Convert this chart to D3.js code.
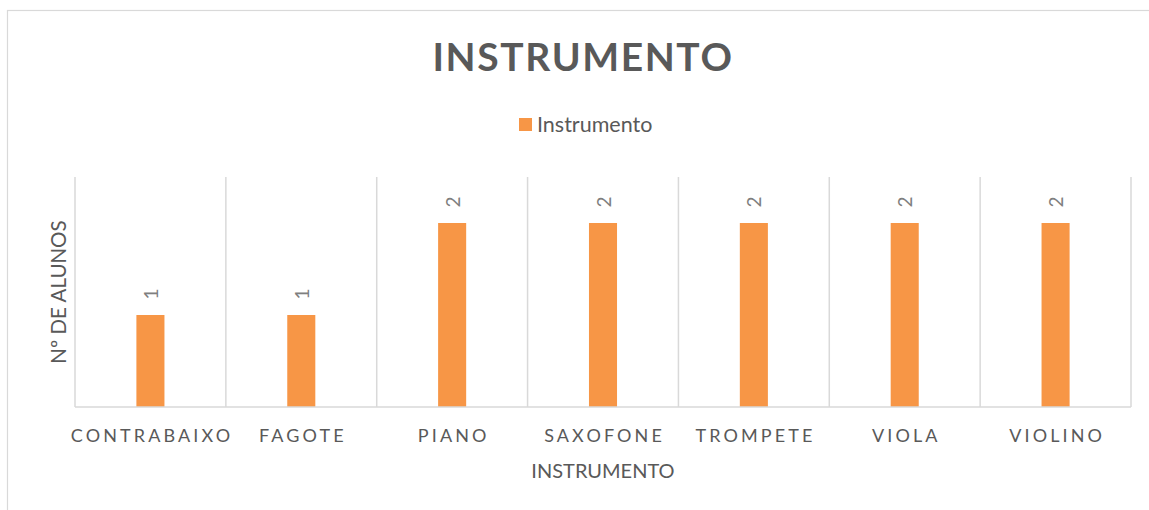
<!DOCTYPE html>
<html><head><meta charset="utf-8">
<script src="https://cdn.jsdelivr.net/npm/d3@7"></script>
<style>body{margin:0;background:#fff}svg{display:block}</style>
</head><body>
<svg id="c" width="1149" height="510"></svg>
<script>
const categories = ["CONTRABAIXO","FAGOTE","PIANO","SAXOFONE","TROMPETE","VIOLA","VIOLINO"];
const values = [1,1,2,2,2,2,2];
const seriesName = "Instrumento";
const chartTitle = "INSTRUMENTO";
const xTitle = "INSTRUMENTO";
const yTitle = "Nº DE ALUNOS";

const font = "Lato, 'Open Sans', sans-serif";
const svg = d3.select("#c");
const m = {l:75, r:1131, t:177, b:407};

svg.append("rect").attr("x",7.5).attr("y",10.5).attr("width",1200).attr("height",600)
  .attr("fill","none").attr("stroke","#d9d9d9").attr("stroke-width",1.2);

const xGrid = d3.scaleBand().domain(categories).range([m.l,m.r]).padding(0);
const x = d3.scaleBand().domain(categories).range([m.l,m.r]).paddingInner(0.814).paddingOuter(0.407);
const y = d3.scaleLinear().domain([0,2.5]).range([m.b,m.t]);

// gridlines at category boundaries
const bounds = categories.map(c=>xGrid(c)).concat([m.r]);
svg.append("g").selectAll("line").data(bounds).join("line")
  .attr("x1",d=>d).attr("x2",d=>d).attr("y1",m.t).attr("y2",m.b)
  .attr("stroke","#d9d9d9").attr("stroke-width",1.5);

// bars
svg.append("g").selectAll("rect").data(values).join("rect")
  .attr("x",(d,i)=>x(categories[i])).attr("width",x.bandwidth())
  .attr("y",d=>y(d)).attr("height",d=>y(0)-y(d)).attr("fill","#F79646");

// baseline
svg.append("line").attr("x1",m.l).attr("x2",m.r).attr("y1",m.b).attr("y2",m.b)
  .attr("stroke","#d9d9d9").attr("stroke-width",1.5);

// data labels
svg.append("g").selectAll("text").data(values).join("text")
  .attr("transform",(d,i)=>`translate(${x(categories[i])+x.bandwidth()/2},${y(d)-21}) rotate(-90)`)
  .attr("text-anchor","middle").attr("dominant-baseline","central")
  .attr("font-family",font).attr("font-size",19).attr("fill","#7f7f7f")
  .text(d=>d);

// x axis labels
const ls = 3.1;
const xAxis = d3.axisBottom(xGrid).tickSize(0).tickPadding(0);
const gx = svg.append("g").attr("transform",`translate(0,${m.b})`).call(xAxis);
gx.select(".domain").remove();
gx.selectAll("text").attr("y",35).attr("dy",0).attr("dx",ls/2)
  .attr("font-family",font).attr("font-size",18).attr("fill","#595959")
  .attr("letter-spacing",ls);

// x title
svg.append("text").attr("x",(m.l+m.r)/2).attr("y",478).attr("text-anchor","middle")
  .attr("font-family",font).attr("font-size",20).attr("fill","#595959").text(xTitle);

// y title
svg.append("text").attr("transform",`translate(66,${(m.t+m.b)/2}) rotate(-90)`)
  .attr("text-anchor","middle").attr("font-family",font).attr("font-size",20.5)
  .attr("fill","#595959").text(yTitle);

// title
svg.append("text").attr("x",583).attr("y",71).attr("text-anchor","middle")
  .attr("font-family",font).attr("font-size",39).attr("font-weight","bold")
  .attr("letter-spacing",1.6).attr("fill","#595959").text(chartTitle);

// legend
const lg = svg.append("g");
lg.append("rect").attr("x",519).attr("y",118).attr("width",13).attr("height",13).attr("fill","#F79646");
lg.append("text").attr("x",537).attr("y",132).attr("font-family",font).attr("font-size",21.5)
  .attr("fill","#595959").text(seriesName);
</script>
</body></html>
